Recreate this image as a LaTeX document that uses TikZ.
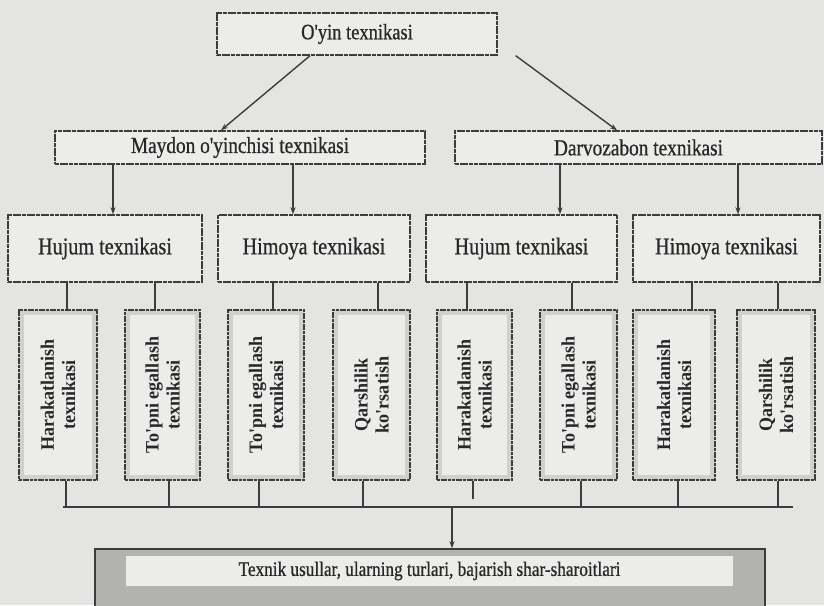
\documentclass[tikz,border=0pt]{standalone}
\usepackage{fontspec}
\setmainfont{Liberation Serif}
\newfontfamily\condf[FakeStretch=0.84,FakeBold=0.7]{Liberation Serif}
\newfontfamily\vcondf[FakeStretch=0.95]{Liberation Serif}
\usetikzlibrary{arrows.meta}
\definecolor{pagebg}{RGB}{228,228,226}
\definecolor{linec}{RGB}{60,60,60}
\definecolor{boxfill}{RGB}{236,236,234}
\definecolor{vfill}{RGB}{208,208,206}
\definecolor{vinner}{RGB}{236,236,234}
\definecolor{botfill}{RGB}{178,178,176}
\definecolor{txtc}{RGB}{40,40,40}
\begin{document}
\begin{tikzpicture}[x=1pt,y=-1pt,
  hbox/.style={draw=linec, line width=1.4pt, fill=boxfill, dash pattern=on 4pt off 0.7pt,
    rectangle, inner sep=0pt, text=txtc},
  vbox/.style={draw=linec, line width=1.4pt, fill=vfill, dash pattern=on 3pt off 0.7pt,
    rectangle, inner sep=0pt, minimum height=170pt},
  vin/.style={fill=vinner, rectangle, inner sep=0pt, minimum height=160pt},
  vtxt/.style={rotate=90, align=center, text=txtc, font=\vcondf\fontsize{19}{21}\selectfont\bfseries},
  conn/.style={draw=linec, line width=1.4pt},
  arr/.style={conn, -{Stealth[length=7pt,width=5pt]}}
]
\fill[pagebg] (0,0) rectangle (824,605);
\useasboundingbox (0,0) rectangle (824,605);

% top
\node[hbox, minimum width=280pt, minimum height=42pt, font=\condf\fontsize{22}{24}\selectfont] (top) at (357,34) {O'yin texnikasi};

% level 2
\node[hbox, minimum width=370pt, minimum height=33pt, font=\condf\fontsize{23}{25}\selectfont] (may) at (240,147.5) {Maydon o'yinchisi texnikasi};
\node[hbox, minimum width=367pt, minimum height=33pt, font=\condf\fontsize{23}{25}\selectfont] (dar) at (638.5,147.5) {Darvozabon texnikasi};

% level 3
\begin{scope}[every node/.append style={hbox, minimum height=67pt, font=\condf\fontsize{24}{26}\selectfont}]
\node[minimum width=194pt] (h1) at (105,248.5) {Hujum texnikasi};
\node[minimum width=192pt] (h2) at (314,248.5) {Himoya texnikasi};
\node[minimum width=191pt] (h3) at (521.5,248.5) {Hujum texnikasi};
\node[minimum width=187pt] (h4) at (726.5,248.5) {Himoya texnikasi};
\end{scope}

% level 4
\foreach \n/\x/\w/\t in {
  b1/58/78/{Harakatlanish\\texnikasi},
  b2/162.5/75/{To'pni egallash\\texnikasi},
  b3/266/76/{To'pni egallash\\texnikasi},
  b4/371.5/77/{Qarshilik\\ko'rsatish},
  b5/474.5/75/{Harakatlanish\\texnikasi},
  b6/578.5/77/{To'pni egallash\\texnikasi},
  b7/674/82/{Harakatlanish\\texnikasi},
  b8/776/78/{Qarshilik\\ko'rsatish}}{
  \node[vbox, minimum width=\w pt] (\n) at (\x,395) {};
  \node[vin, minimum width=\w pt - 10pt] (\n i) at (\x,395) {};
  \node[vtxt] (\n t) at (\x,395) {\t};
}

% bottom box
\node[draw=linec, line width=1.4pt, fill=botfill, rectangle, inner sep=0pt,
  minimum width=670pt, minimum height=64pt] (bot) at (430,581) {};
\node[fill=vinner, rectangle, inner sep=0pt, minimum width=607pt, minimum height=30pt,
  text=txtc, font=\condf\fontsize{20.5}{22}\selectfont] (bott) at (429.5,571) {Texnik usullar, ularning turlari, bajarish shar-sharoitlari};

% arrows top -> level 2
\draw[arr] ([xshift=-47pt]top.south) -- ([xshift=-19pt]may.north);
\draw[arr] ([xshift=18pt]top.south east) -- ([xshift=-21.5pt]dar.north);

% level 2 -> level 3
\draw[arr] ([xshift=-127pt]may.south) -- ([xshift=-127pt]may.south |- h1.north);
\draw[arr] ([xshift=53pt]may.south) -- ([xshift=53pt]may.south |- h2.north);
\draw[arr] ([xshift=-78.5pt]dar.south) -- ([xshift=-78.5pt]dar.south |- h3.north);
\draw[arr] ([xshift=99.5pt]dar.south) -- ([xshift=99.5pt]dar.south |- h4.north);

% level 3 -> level 4
\draw[conn] ([xshift=9pt]b1.north) -- ([xshift=9pt]b1.north |- h1.south);
\draw[conn] ([xshift=-7.5pt]b2.north) -- ([xshift=-7.5pt]b2.north |- h1.south);
\draw[conn] ([xshift=7pt]b3.north) -- ([xshift=7pt]b3.north |- h2.south);
\draw[conn] ([xshift=6.5pt]b4.north) -- ([xshift=6.5pt]b4.north |- h2.south);
\draw[conn] ([xshift=-7.5pt]b5.north) -- ([xshift=-7.5pt]b5.north |- h3.south);
\draw[conn] ([xshift=-6.5pt]b6.north) -- ([xshift=-6.5pt]b6.north |- h3.south);
\draw[conn] ([xshift=18pt]b7.north) -- ([xshift=18pt]b7.north |- h4.south);
\draw[conn] ([xshift=2pt]b8.north) -- ([xshift=2pt]b8.north |- h4.south);

% level 4 -> bar
\coordinate (barL) at (63,507);
\coordinate (barR) at (793,507);
\draw[conn] (barL) -- (barR);
\draw[conn] ([xshift=8pt]b1.south) -- ([xshift=8pt]b1.south |- barL);
\draw[conn] ([xshift=6.5pt]b2.south) -- ([xshift=6.5pt]b2.south |- barL);
\draw[conn] ([xshift=-7pt]b3.south) -- ([xshift=-7pt]b3.south |- barL);
\draw[conn] ([xshift=-8.5pt]b4.south) -- ([xshift=-8.5pt]b4.south |- barL);
\draw[conn] ([xshift=-1.5pt]b5.south) -- ([xshift=-1.5pt,yshift=8pt]b5.south |- barL);
\draw[conn] ([xshift=2.5pt]b6.south) -- ([xshift=2.5pt]b6.south |- barL);
\draw[conn] ([xshift=4pt]b7.south) -- ([xshift=4pt]b7.south |- barL);
\draw[conn] ([xshift=2pt]b8.south) -- ([xshift=2pt]b8.south |- barL);
\draw[arr] ([xshift=22pt]bot.north |- barL) -- ([xshift=22pt]bot.north);
\end{tikzpicture}
\end{document}
